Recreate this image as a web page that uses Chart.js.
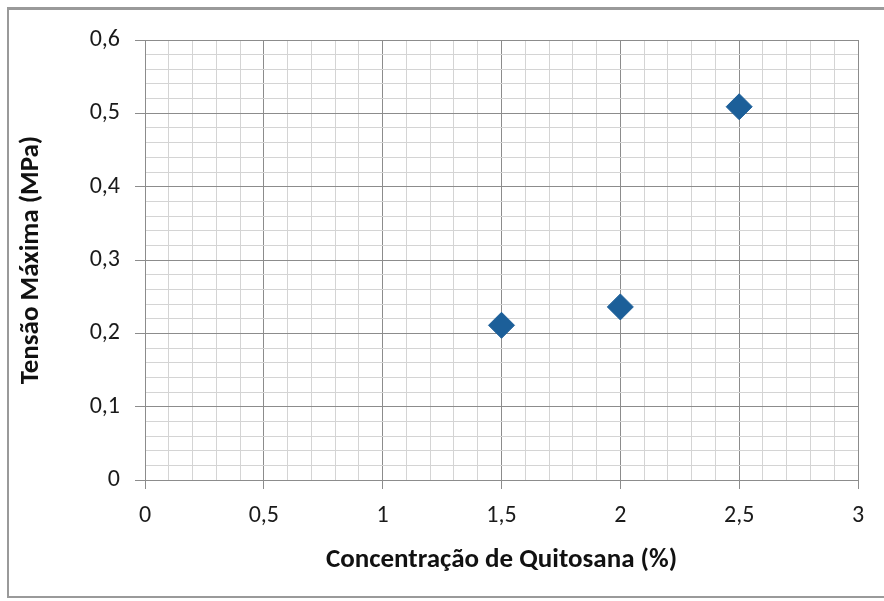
<!DOCTYPE html>
<html>
<head>
<meta charset="utf-8">
<script src="https://cdn.jsdelivr.net/npm/chart.js@4.4.0/dist/chart.umd.min.js"></script>
<style>
    html, body { margin: 0; padding: 0; background: #fff; overflow: hidden; }
    #wrap { position: relative; width: 884px; height: 601px; overflow: hidden; }
    #frame { position: absolute; left: 7px; top: 7px; width: 900px; height: 591px; border: 2px solid #9a9a9a; border-top-width: 3px; border-right: none; box-sizing: border-box; pointer-events: none; }
    canvas { position: absolute; left: 0; top: 0; }
</style>
</head>
<body>
<div id="wrap">
    <canvas id="scatterChart" width="884" height="601"></canvas>
    <div id="frame"></div>
</div>
<script>
/*global Chart, document*/

// data
var concentracao = [1.5, 2.0, 2.5];
var tensaoMaxima = [0.211, 0.236, 0.509];

// axis ticks
var xMajorTicks = [0, 0.5, 1, 1.5, 2, 2.5, 3];
var xTickLabels = ['0', '0,5', '1', '1,5', '2', '2,5', '3'];
var yMajorTicks = [0, 0.1, 0.2, 0.3, 0.4, 0.5, 0.6];
var yTickLabels = ['0', '0,1', '0,2', '0,3', '0,4', '0,5', '0,6'];

var markerBlue = '#1c5f99';
var majorGrid = '#8c8c8c';
var minorGrid = '#d4d4d4';
var tickFont = 'Carlito, Lato, "Open Sans", sans-serif';
var titleFont = 'Carlito, Lato, "Open Sans", sans-serif';

function majorIndex(list, v) {
    for (var i = 0; i < list.length; i++) {
        if (Math.abs(list[i] - v) < 1e-6) {
            return i;
        }
    }
    return -1;
}

function gridColor(list) {
    return function (ctx) {
        return majorIndex(list, ctx.tick.value) >= 0 ? majorGrid : minorGrid;
    };
}

function tickColor(list) {
    return function (ctx) {
        return majorIndex(list, ctx.tick.value) >= 0 ? majorGrid : 'rgba(0,0,0,0)';
    };
}

var points = concentracao.map(function (x, i) {
    return {x: x, y: tensaoMaxima[i]};
});

var CHART = document.getElementById('scatterChart');
var myChart = new Chart(CHART, {
    type: 'scatter',
    data: {
        datasets: [
            {
                label: 'Tensão Máxima',
                data: points,
                pointStyle: 'rectRot',
                pointRadius: 13,
                pointHoverRadius: 13,
                backgroundColor: markerBlue,
                borderColor: markerBlue,
                borderWidth: 1
            }
        ]
    },
    options: {
        responsive: false,
        animation: false,
        devicePixelRatio: 1,
        layout: {
            padding: {left: 0, top: 40, right: 26, bottom: 0}
        },
        plugins: {
            legend: {display: false},
            tooltip: {enabled: false}
        },
        scales: {
            x: {
                type: 'linear',
                min: 0,
                max: 3,
                afterFit: function (scale) {
                    scale.height = 121;
                },
                ticks: {
                    stepSize: 0.1,
                    autoSkip: false,
                    maxRotation: 0,
                    padding: 13,
                    color: '#1a1a1a',
                    font: {family: tickFont, size: 24},
                    callback: function (value) {
                        var i = majorIndex(xMajorTicks, value);
                        return i >= 0 ? xTickLabels[i] : '';
                    }
                },
                grid: {
                    color: gridColor(xMajorTicks),
                    tickColor: tickColor(xMajorTicks),
                    tickLength: 9,
                    lineWidth: 1
                },
                border: {color: majorGrid},
                title: {
                    display: true,
                    text: 'Concentração de Quitosana (%)',
                    color: '#111',
                    font: {family: titleFont, size: 27, weight: 'bold'},
                    padding: {top: 0, bottom: 25}
                }
            },
            y: {
                type: 'linear',
                min: 0,
                max: 0.6,
                afterFit: function (scale) {
                    scale.width = 145;
                },
                ticks: {
                    stepSize: 0.02,
                    autoSkip: false,
                    padding: 15,
                    color: '#1a1a1a',
                    font: {family: tickFont, size: 24},
                    callback: function (value) {
                        var i = majorIndex(yMajorTicks, value);
                        return i >= 0 ? yTickLabels[i] : '';
                    }
                },
                grid: {
                    color: gridColor(yMajorTicks),
                    tickColor: tickColor(yMajorTicks),
                    tickLength: 10,
                    lineWidth: 1
                },
                border: {color: majorGrid},
                title: {
                    display: true,
                    text: 'Tensão Máxima (MPa)',
                    color: '#111',
                    font: {family: titleFont, size: 27, weight: 'bold'},
                    padding: {top: 15, bottom: 0}
                }
            }
        }
    }
});
</script>
</body>
</html>
